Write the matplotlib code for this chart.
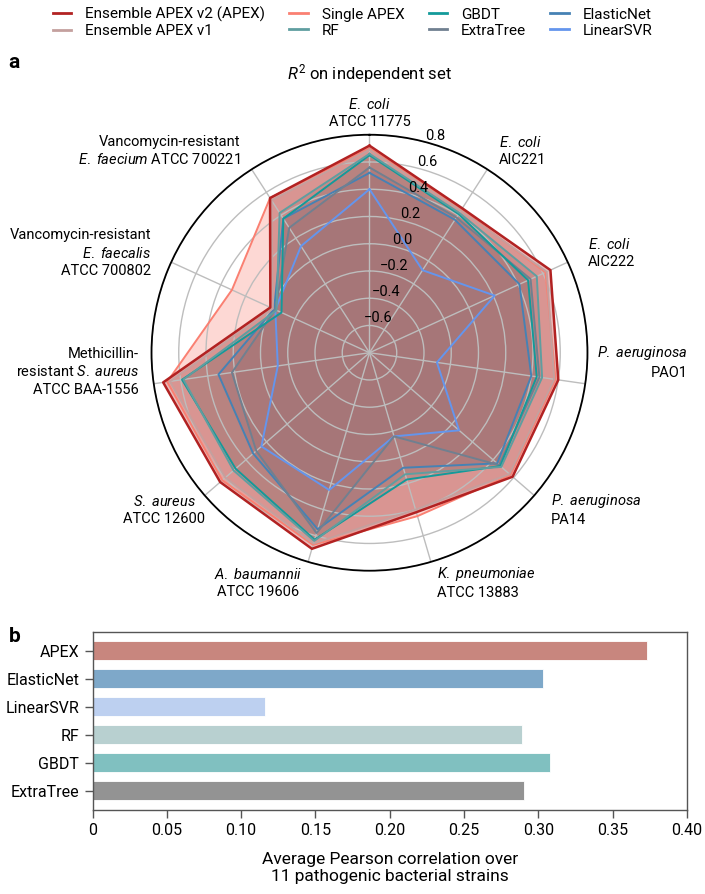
import numpy as np
import matplotlib.pyplot as plt
from matplotlib.lines import Line2D

plt.rcParams['font.family'] = ['Roboto', 'DejaVu Sans']
plt.rcParams['mathtext.fontset'] = 'custom'
plt.rcParams['mathtext.rm'] = 'Roboto'
plt.rcParams['mathtext.it'] = 'Roboto:italic'

# strains, clockwise from the top
strains = [
    "$\\mathit{E.}$ $\\mathit{coli}$\nATCC 11775",
    "$\\mathit{E.}$ $\\mathit{coli}$\nAIC221",
    "$\\mathit{E.}$ $\\mathit{coli}$\nAIC222",
    "$\\mathit{P.}$ $\\mathit{aeruginosa}$\nPAO1",
    "$\\mathit{P.}$ $\\mathit{aeruginosa}$\nPA14",
    "$\\mathit{K.}$ $\\mathit{pneumoniae}$\nATCC 13883",
    "$\\mathit{A.}$ $\\mathit{baumannii}$\nATCC 19606",
    "$\\mathit{S.}$ $\\mathit{aureus}$\nATCC 12600",
    "Methicillin-\nresistant $\\mathit{S.}$ $\\mathit{aureus}$\nATCC BAA-1556",
    "Vancomycin-resistant\n$\\mathit{E.}$ $\\mathit{faecalis}$\nATCC 700802",
    "Vancomycin-resistant\n$\\mathit{E.}$ $\\mathit{faecium}$ ATCC 700221",
]

# R^2 on independent set, one value per strain
apex_v2 = [0.72, 0.46, 0.66, 0.60, 0.59, 0.42, 0.70, 0.65, 0.73, 0.00, 0.55]
apex_v1 = [0.69, 0.44, 0.63, 0.57, 0.56, 0.40, 0.66, 0.60, 0.68, -0.02, 0.53]
single_apex = [0.70, 0.45, 0.62, 0.58, 0.57, 0.45, 0.67, 0.63, 0.70, 0.31, 0.55]
rf = [0.66, 0.42, 0.55, 0.48, 0.48, 0.13, 0.64, 0.52, 0.58, -0.05, 0.42]
gbdt = [0.65, 0.41, 0.48, 0.44, 0.47, 0.17, 0.63, 0.50, 0.59, -0.09, 0.37]
extratree = [0.56, 0.38, 0.50, 0.46, 0.46, -0.16, 0.58, 0.30, 0.22, -0.04, 0.29]
elasticnet = [0.52, 0.36, 0.41, 0.40, 0.44, 0.08, 0.55, 0.33, 0.32, -0.03, 0.37]
linearsvr = [0.40, -0.08, 0.21, -0.30, 0.07, -0.16, 0.25, 0.25, -0.12, -0.04, 0.13]

series_names = ["Ensemble APEX v2 (APEX)", "Ensemble APEX v1", "Single APEX", "RF",
                "GBDT", "ExtraTree", "ElasticNet", "LinearSVR"]
series_values = [apex_v2, apex_v1, single_apex, rf, gbdt, extratree, elasticnet, linearsvr]
series_colors = ["#b22222", "#c4a09e", "#fa8072", "#5f9ea0",
                 "#139a9a", "#708090", "#4682b4", "#6495ed"]

r_ticks = [-0.6, -0.4, -0.2, 0.0, 0.2, 0.4, 0.6, 0.8]

# panel b
bar_models = ["APEX", "ElasticNet", "LinearSVR", "RF", "GBDT", "ExtraTree"]
bar_values = [0.373, 0.303, 0.116, 0.289, 0.308, 0.290]
bar_colors = ["#c8867e", "#7ea8c9", "#bdd0f0", "#b8d0d0", "#80c0c0", "#939393"]
x_ticks = [0, 0.05, 0.10, 0.15, 0.20, 0.25, 0.30, 0.35, 0.40]

fig = plt.figure(figsize=(7.05, 8.94), dpi=100)

# ---- radar ----
ax = fig.add_axes([0.2149, 0.3616, 0.6184, 0.4877], projection="polar")
ax.set_theta_zero_location("N")
ax.set_theta_direction(-1)
n = len(strains)
angles = np.arange(n) * 2 * np.pi / n
closed = np.append(angles, angles[0])

for vals, col in zip(series_values[::-1], series_colors[::-1]):
    v = np.append(vals, vals[0])
    ax.fill(closed, v, color=col, alpha=0.3, lw=0)
for name, vals, col in zip(series_names[::-1], series_values[::-1], series_colors[::-1]):
    v = np.append(vals, vals[0])
    lw = 1.8 if name.startswith("Ensemble APEX v2") else 1.4
    ax.plot(closed, v, color=col, lw=lw)

ax.set_ylim(-0.8, 0.8)
ax.set_yticks(r_ticks)
ax.set_yticklabels([])
ax.set_xticks(angles)
ax.set_xticklabels([])
ax.grid(color="#bdbdbd", lw=1)
ax.spines["polar"].set_linewidth(1.3)

# radial tick labels, centred on a ray just right of the top spoke
for t in r_ticks:
    ax.annotate(f"{t:.1f}".replace("-", "\u2212"), xy=(np.deg2rad(17.5), t),
                xytext=(0, 6.5), textcoords="offset points", ha="center", va="center",
                fontsize=10.5, annotation_clip=False)

# label placement around the circle (alignment + small nudges in points)
label_ha = ["center", "left", "left", "left", "left", "left",
            "right", "right", "right", "right", "right"]
label_ma = ["center", "left", "left", "right", "left", "left",
            "center", "center", "right", "right", "right"]
label_nudge = [(0, 0), (0, 0), (0, 0), (-7, 18), (0, 0), (0, 0),
               (0, 0), (12, 0), (5, 11), (0, 0), (0, 0)]
r_text = 0.96
for ang, lab, ha, ma, nd in zip(angles, strains, label_ha, label_ma, label_nudge):
    ax.annotate(lab, xy=(ang, r_text), xytext=nd, textcoords="offset points",
                ha=ha, va="center", multialignment=ma, fontsize=10.5, linespacing=1.3,
                annotation_clip=False)

ax.set_title("$R^2$ on independent set", fontsize=12, pad=40)

handles = [Line2D([0], [0], color=c, lw=2) for c in series_colors]
fig.legend(handles, series_names, ncol=4, loc="upper center", bbox_to_anchor=(0.5, 1.008),
           frameon=False, fontsize=11, handlelength=1.2, handletextpad=0.9,
           columnspacing=1.6, labelspacing=0.15)

fig.text(0.012, 0.93, "a", fontsize=15, fontweight="bold", va="center")

# ---- bar chart ----
bx = fig.add_axes([0.1313, 0.094, 0.8432, 0.1994])
ypos = np.arange(len(bar_models))
bx.barh(ypos, bar_values, height=0.68, color=bar_colors, edgecolor="white", lw=0.6)
bx.set_ylim(len(bar_models) - 1 + 0.68, -0.68)
bx.set_xlim(0, 0.40)
bx.set_yticks(ypos)
bx.set_yticklabels(bar_models, fontsize=11.5)
bx.set_xticks(x_ticks)
bx.set_xticklabels(["0"] + [f"{t:.2f}" for t in x_ticks[1:]], fontsize=11.5)
bx.tick_params(length=6, width=1, color="#555555")
for s in bx.spines.values():
    s.set_color("#555555")
    s.set_linewidth(1)
bx.set_xlabel("Average Pearson correlation over\n11 pathogenic bacterial strains",
              fontsize=12.5, labelpad=10)
fig.text(0.012, 1 - 637 / 894, "b", fontsize=15, fontweight="bold", va="center")

fig.savefig("out.png", dpi=100)
